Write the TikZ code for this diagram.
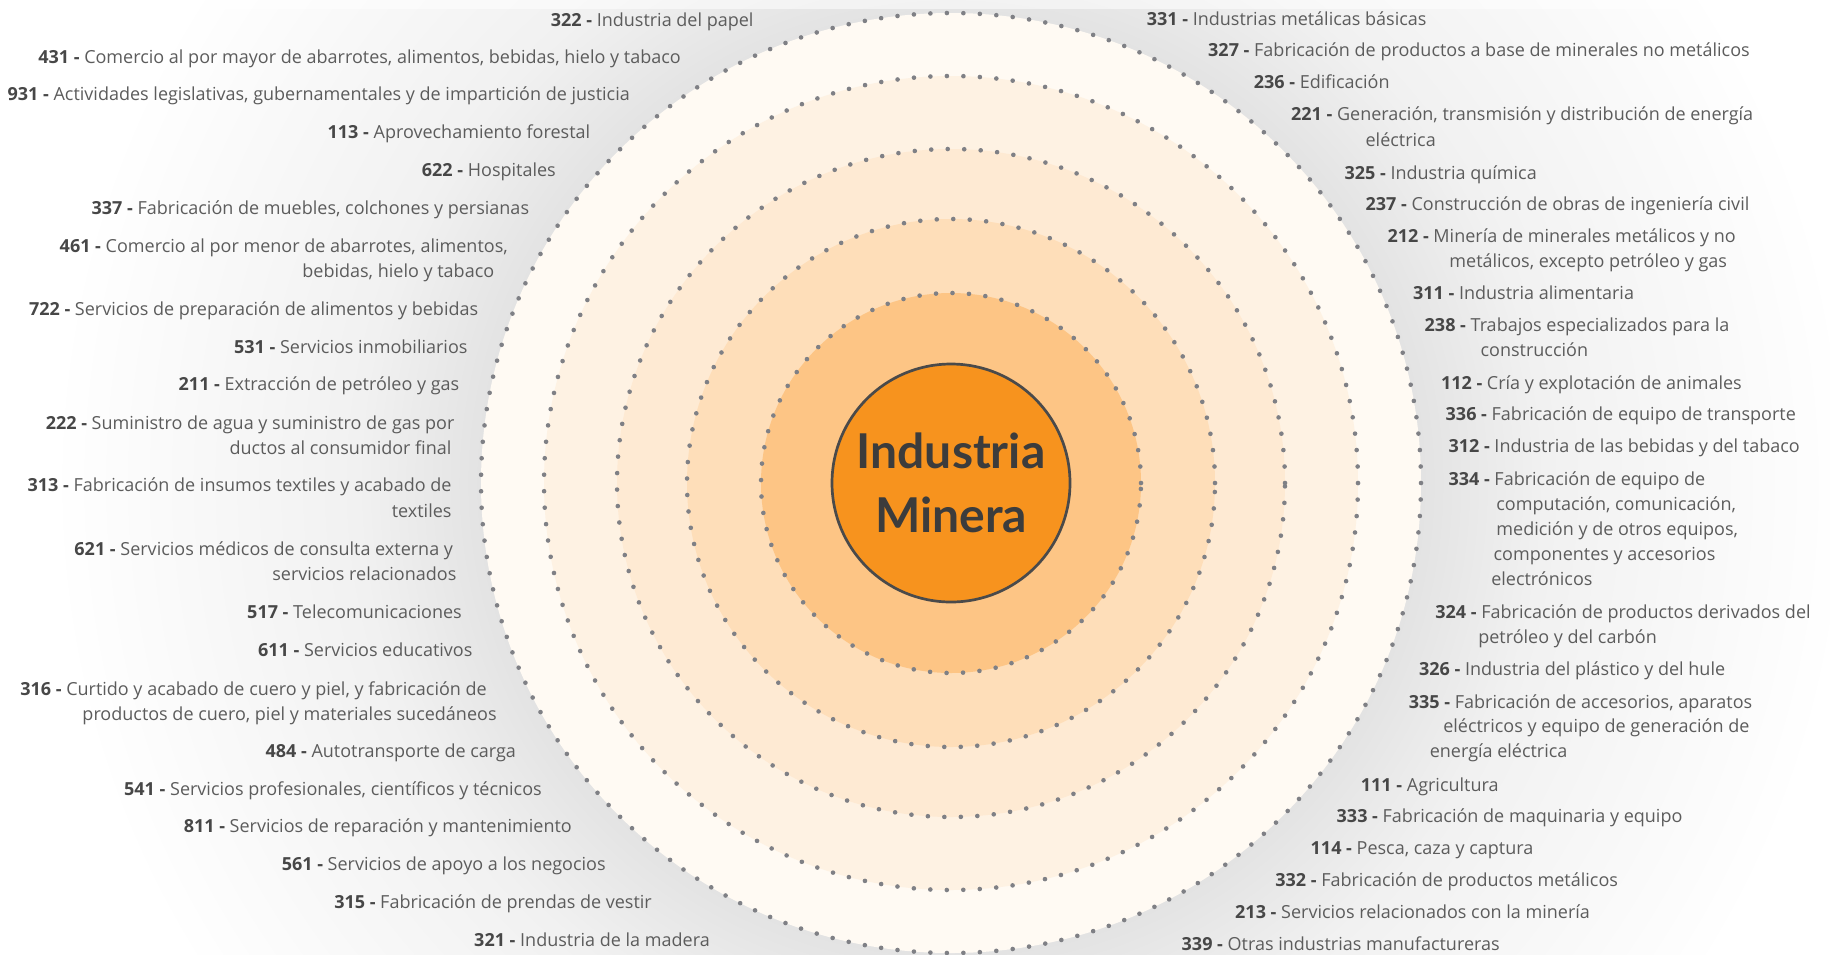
\documentclass[tikz,border=0pt]{standalone}
\usepackage{fontspec}
\setmainfont{Open Sans}
\newfontfamily\latofont{Lato}
\definecolor{numgray}{HTML}{474747}
\definecolor{txtgray}{HTML}{5C5C5C}
\definecolor{dotgray}{HTML}{7F8085}
\definecolor{glowgray}{HTML}{E3E3E3}
\definecolor{glowmid}{HTML}{F1F1F1}
\definecolor{ringA}{HTML}{FFFAF3}
\definecolor{ringB}{HTML}{FEF2E3}
\definecolor{ringC}{HTML}{FEEAD3}
\definecolor{ringD}{HTML}{FEDEB9}
\definecolor{ringE}{HTML}{FDC585}
\definecolor{coreorange}{HTML}{F7931E}
\definecolor{coreline}{HTML}{4A4A4A}
\definecolor{coretext}{HTML}{3C3C3C}
\pgfdeclareradialshading{glowshade}{\pgfpoint{0bp}{0bp}}{color(0bp)=(glowgray); color(13.05bp)=(glowgray); color(16.5bp)=(glowmid); color(25bp)=(white); color(50bp)=(white)}
\newcommand{\cod}[1]{{\bfseries\color{numgray}#1 -} }
\tikzset{
  lab/.style={font=\fontsize{18}{22}\selectfont, text=txtgray, inner sep=0pt},
  labL/.style={lab, anchor=base east},
  labR/.style={lab, anchor=base west},
  dotring/.style={draw=dotgray, line width=4.6pt, line cap=round, dash pattern=on 0pt off 16.5pt},
}
\begin{document}
\begin{tikzpicture}[x=1pt,y=-1pt]
\useasboundingbox (0,0) rectangle (1830,954);
\fill[white] (0,0) rectangle (1830,954);
\begin{scope}
\clip (0,0) rectangle (1830,954);
\shade[shading=glowshade] (951,483) circle[radius=900pt];
\end{scope}
\fill[white, opacity=0.55] (0,0) rectangle (1830,9);
% filled rings
\fill[ringA] (951,483) circle[radius=470pt];
\fill[ringB] (951,483) circle[radius=407pt];
\fill[ringC] (951,483) circle[radius=334pt];
\fill[ringD] (951,483) circle[radius=264pt];
\fill[ringE] (951,483) circle[radius=190pt];
% dotted rings
\draw[dotring] (951,483) circle[radius=470pt];
\draw[dotring] (951,483) circle[radius=407pt];
\draw[dotring] (951,483) circle[radius=334pt];
\draw[dotring] (951,483) circle[radius=264pt];
\draw[dotring] (951,483) circle[radius=190pt];
% core
\node[circle, minimum size=238pt, inner sep=0pt, fill=coreorange, draw=coreline, line width=2.7pt, align=center, text=coretext, font=\latofont\bfseries\fontsize{48}{63.4}\selectfont] (core) at (951,483) {Industria\\Minera};
% left labels
\node[labL] (l322) at (753.7,26) {\cod{322}Industria del papel};
\node[labL] (l431) at (681,63.3) {\cod{431}Comercio al por mayor de abarrotes, alimentos, bebidas, hielo y tabaco};
\node[labL] (l931) at (630,100) {\cod{931}Actividades legislativas, gubernamentales y de impartición de justicia};
\node[labL] (l113) at (590.4,138.3) {\cod{113}Aprovechamiento forestal};
\node[labL] (l622) at (556,176.7) {\cod{622}Hospitales};
\node[labL] (l337) at (529.3,214.3) {\cod{337}Fabricación de muebles, colchones y persianas};
\node[labL] (l461a) at (508,252.3) {\cod{461}Comercio al por menor de abarrotes, alimentos,};
\node[labL] (l461b) at (494.4,277.7) {bebidas, hielo y tabaco};
\node[labL] (l722) at (478.4,315) {\cod{722}Servicios de preparación de alimentos y bebidas};
\node[labL] (l531) at (467.7,353.3) {\cod{531}Servicios inmobiliarios};
\node[labL] (l211) at (459.5,390.7) {\cod{211}Extracción de petróleo y gas};
\node[labL] (l222a) at (454.6,429) {\cod{222}Suministro de agua y suministro de gas por};
\node[labL] (l222b) at (451.7,454.3) {ductos al consumidor final};
\node[labL] (l313a) at (451.7,491.7) {\cod{313}Fabricación de insumos textiles y acabado de};
\node[labL] (l313b) at (451.7,517.3) {textiles};
\node[labL] (l621a) at (453.2,555.7) {\cod{621}Servicios médicos de consulta externa y};
\node[labL] (l621b) at (456.6,580) {servicios relacionados};
\node[labL] (l517) at (462,618.3) {\cod{517}Telecomunicaciones};
\node[labL] (l611) at (472.6,656.7) {\cod{611}Servicios educativos};
\node[labL] (l316a) at (487,695) {\cod{316}Curtido y acabado de cuero y piel, y fabricación de};
\node[labL] (l316b) at (496.8,720) {productos de cuero, piel y materiales sucedáneos};
\node[labL] (l484) at (516.2,757.3) {\cod{484}Autotransporte de carga};
\node[labL] (l541) at (541.9,795) {\cod{541}Servicios profesionales, científicos y técnicos};
\node[labL] (l811) at (572,832.7) {\cod{811}Servicios de reparación y mantenimiento};
\node[labL] (l561) at (605.9,870) {\cod{561}Servicios de apoyo a los negocios};
\node[labL] (l315) at (652,908.3) {\cod{315}Fabricación de prendas de vestir};
\node[labL] (l321) at (710,946) {\cod{321}Industria de la madera};
% right labels
\node[labR] (r331) at (1146.6,25) {\cod{331}Industrias metálicas básicas};
\node[labR] (r327) at (1208,56.7) {\cod{327}Fabricación de productos a base de minerales no metálicos};
\node[labR] (r236) at (1253.6,88.3) {\cod{236}Edificación};
\node[labR] (r221a) at (1290.9,120.7) {\cod{221}Generación, transmisión y distribución de energía};
\node[labR] (r221b) at (1365.4,146) {eléctrica};
\node[labR] (r325) at (1344.4,179) {\cod{325}Industria química};
\node[labR] (r237) at (1365.4,210.7) {\cod{237}Construcción de obras de ingeniería civil};
\node[labR] (r212a) at (1387.3,242.7) {\cod{212}Minería de minerales metálicos y no};
\node[labR] (r212b) at (1449.2,267.7) {metálicos, excepto petróleo y gas};
\node[labR] (r311) at (1412.9,299.3) {\cod{311}Industria alimentaria};
\node[labR] (r238a) at (1424.5,331.7) {\cod{238}Trabajos especializados para la};
\node[labR] (r238b) at (1480.4,356.7) {construcción};
\node[labR] (r112) at (1440.8,389) {\cod{112}Cría y explotación de animales};
\node[labR] (r336) at (1445.5,420) {\cod{336}Fabricación de equipo de transporte};
\node[labR] (r312) at (1448.3,452.7) {\cod{312}Industria de las bebidas y del tabaco};
\node[labR] (r334a) at (1448.3,485) {\cod{334}Fabricación de equipo de};
\node[labR] (r334b) at (1496.2,510) {computación, comunicación,};
\node[labR] (r334c) at (1496.2,535) {medición y de otros equipos,};
\node[labR] (r334d) at (1493.4,560) {componentes y accesorios};
\node[labR] (r334e) at (1491.1,585.7) {electrónicos};
\node[labR] (r324a) at (1435.2,618.3) {\cod{324}Fabricación de productos derivados del};
\node[labR] (r324b) at (1478.1,643.3) {petróleo y del carbón};
\node[labR] (r326) at (1418.9,675) {\cod{326}Industria del plástico y del hule};
\node[labR] (r335a) at (1408.7,708.3) {\cod{335}Fabricación de accesorios, aparatos};
\node[labR] (r335b) at (1443.1,732.7) {eléctricos y equipo de generación de};
\node[labR] (r335c) at (1429.6,757.7) {energía eléctrica};
\node[labR] (r111) at (1360.7,791) {\cod{111}Agricultura};
\node[labR] (r333) at (1336.5,822.7) {\cod{333}Fabricación de maquinaria y equipo};
\node[labR] (r114) at (1310.5,854.3) {\cod{114}Pesca, caza y captura};
\node[labR] (r332) at (1275.1,886) {\cod{332}Fabricación de productos metálicos};
\node[labR] (r213) at (1235,918.3) {\cod{213}Servicios relacionados con la minería};
\node[labR] (r339) at (1181.5,950) {\cod{339}Otras industrias manufactureras};
\end{tikzpicture}
\end{document}
